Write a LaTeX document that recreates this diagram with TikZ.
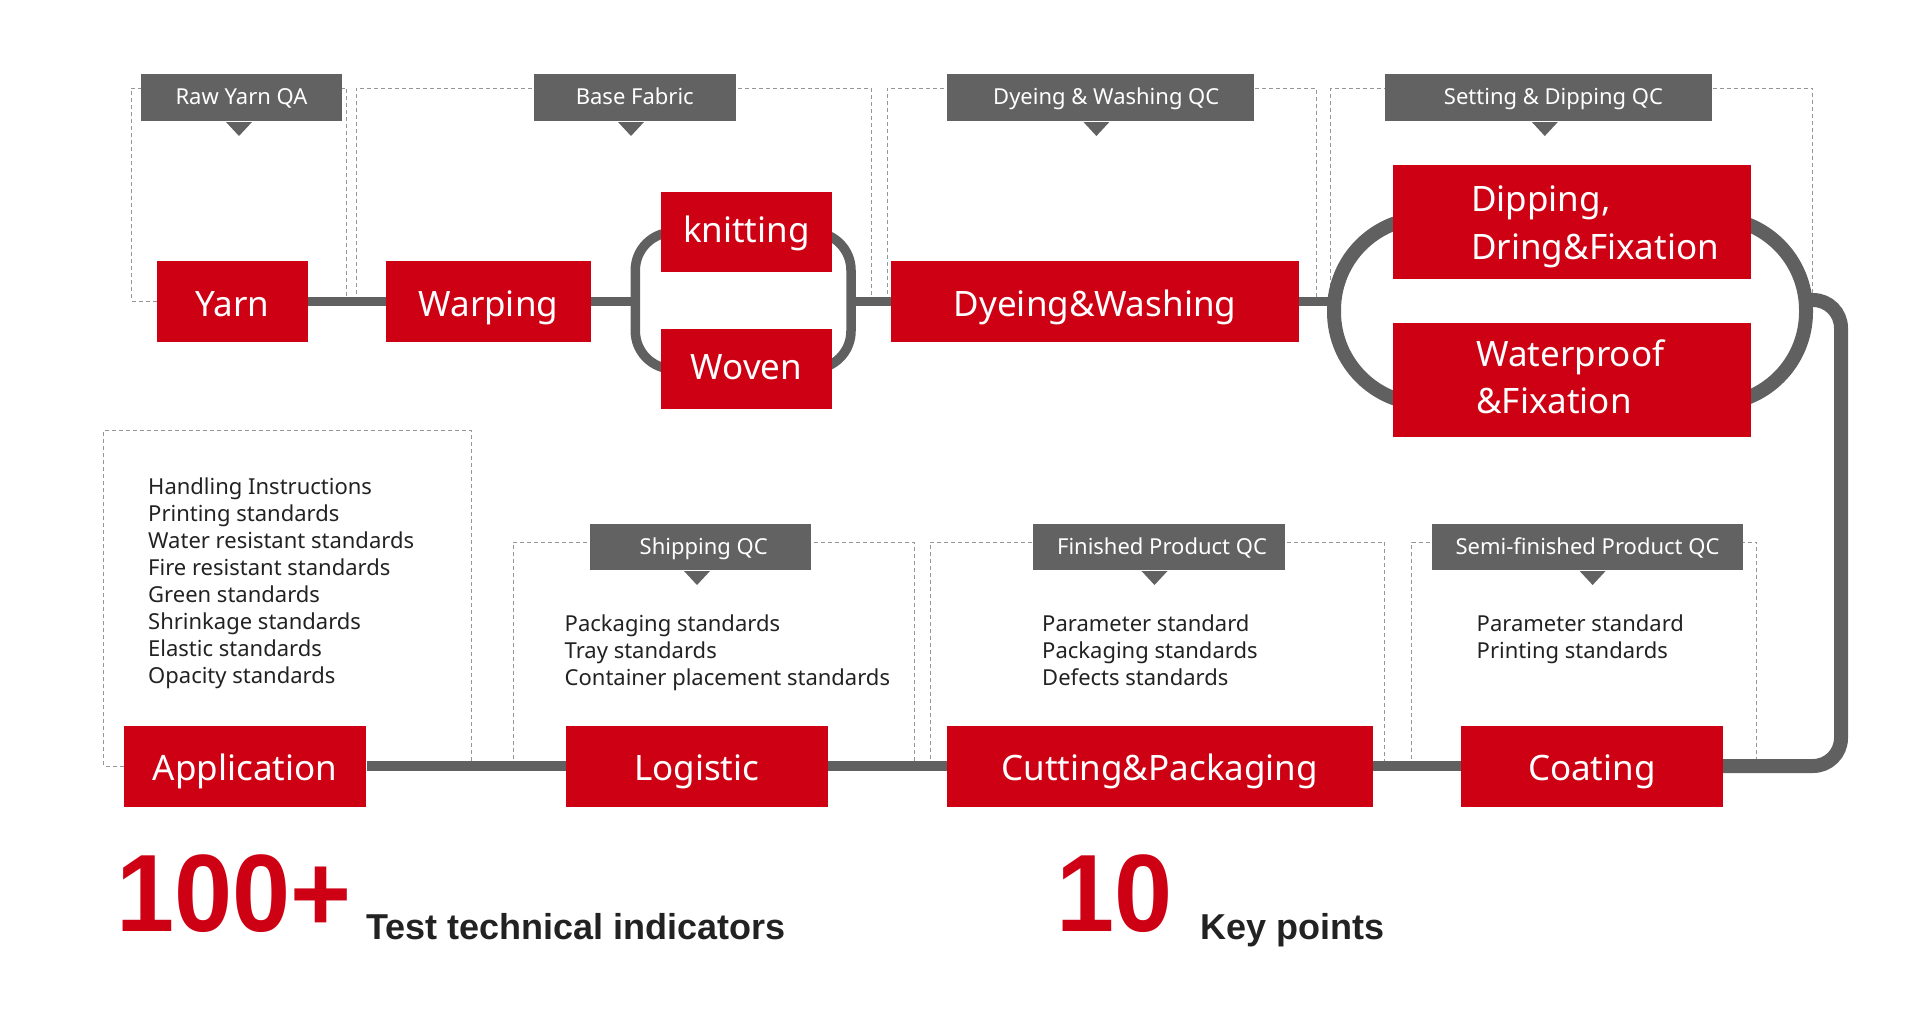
\documentclass[tikz,border=0pt]{standalone}
\usepackage{fontspec}
\setmainfont{Noto Sans}
\newfontfamily\qboldfont{Liberation Sans}
\usepackage{graphicx}
\usetikzlibrary{calc}
\definecolor{qred}{RGB}{206,0,19}
\definecolor{qgray}{RGB}{98,98,98}
\definecolor{qline}{RGB}{96,96,96}
\definecolor{qdash}{RGB}{150,150,150}
\definecolor{qtext}{RGB}{34,34,34}
\newcommand\qtri[2]{\fill[qgray] (#1-13,#2) -- (#1+13,#2) -- (#1,#2+14) -- cycle;}
\begin{document}
\begin{tikzpicture}[x=1pt,y=-1pt,
  redbox/.style={fill=qred, text=white, inner sep=0, font=\fontsize{35}{42}\selectfont, minimum height=81, text height=29pt, text depth=0pt},
  redtxt/.style={text=white, inner sep=0, anchor=base west, font=\fontsize{35}{42}\selectfont},
  qclabel/.style={fill=qgray, text=white, inner sep=0, font=\fontsize{22}{26}\selectfont, text height=14pt, text depth=0pt},
  dashbox/.style={draw=qdash, line width=1, dash pattern=on 4pt off 3pt},
  conn/.style={draw=qline, line width=9.5},
  thickconn/.style={draw=qline, line width=14},
  listtxt/.style={text=qtext, inner sep=0, anchor=base west, font=\fontsize{22}{27}\selectfont},
  bignum/.style={text=qred, inner sep=0, anchor=base west, font=\qboldfont\bfseries\fontsize{110}{120}\selectfont},
  bigtxt/.style={text=qtext, inner sep=0, anchor=base west, font=\qboldfont\bfseries\fontsize{36}{42}\selectfont}]
\useasboundingbox (0,0) rectangle (1918,1010);

% dashed QC frames
\draw[dashbox] (157,301) -- (131.6,301) -- (131.6,88) -- (346.8,88) -- (346.8,301);
\draw[dashbox] (356,301) -- (356,88) -- (871,88) -- (871,301);
\draw[dashbox] (887,301) -- (887,88) -- (1316.5,88) -- (1316.5,301);
\draw[dashbox] (1330.5,301) -- (1330.5,88) -- (1812.7,88) -- (1812.7,295);
\draw[dashbox] (123.8,766) -- (103.4,766) -- (103.4,430.7) -- (471,430.7) -- (471,766);
\draw[dashbox] (513,766) -- (513,542) -- (914,542) -- (914,766);
\draw[dashbox] (930,766) -- (930,542) -- (1384.7,542) -- (1384.7,766);
\draw[dashbox] (1411.5,766) -- (1411.5,542) -- (1756.7,542) -- (1756.7,766);

% QC labels
\node[qclabel, minimum width=201, minimum height=47] (rawqa) at (241.5,97.5) {Raw Yarn QA};
\node[qclabel, minimum width=201.6, minimum height=47] (basefab) at (634.8,97.5) {Base Fabric};
\node[qclabel, minimum width=307.5, minimum height=47] (dyeqc) at (1100.25,97.5) {\hspace{12pt}Dyeing \& Washing QC};
\node[qclabel, minimum width=327, minimum height=47] (setqc) at (1548.5,97.5) {\hspace{10pt}Setting \& Dipping QC};
\node[qclabel, minimum width=220.6, minimum height=46.2, text height=15pt] (shipqc) at (700.7,546.6) {\hspace{6pt}Shipping QC};
\node[qclabel, minimum width=251.3, minimum height=46.2, text height=15pt] (finqc) at (1159,546.6) {\hspace{6pt}Finished Product QC};
\node[qclabel, minimum width=311, minimum height=46.2, text height=15pt] (semiqc) at (1587.5,546.6) {Semi-finished Product QC};
\qtri{239}{122}
\qtri{631}{122}
\qtri{1096.4}{122}
\qtri{1544.8}{122}
\qtri{697}{571}
\qtri{1154.5}{571}
\qtri{1592.6}{571}

% coordinates for loops
\coordinate (lpl) at (635.3,301.5);
\coordinate (lpr) at (851,301.5);
\coordinate (bigL) at (1334,301.5);
\coordinate (bigR) at (1800,300);
\coordinate (rc) at (1841,300);

% red process boxes
\node[redbox, minimum width=150.7] (yarn) at (232.7,301.5) {Yarn};
\node[redbox, minimum width=204.6] (warp) at (488.3,301.5) {Warping};
\node[redbox, minimum width=408] (dye) at (1095,301.5) {Dyeing\&Washing};
\node[redbox, minimum width=242.6] (app) at (245.1,766) {Application};
\node[redbox, minimum width=262] (logi) at (696.7,766) {Logistic};
\node[redbox, minimum width=425.6] (cut) at (1159.8,766) {Cutting\&Packaging};
\node[redbox, minimum width=261.8] (coat) at (1591.9,766) {Coating};

% connectors
\draw[conn] (yarn) -- (warp);
\draw[conn] (warp) -- (lpl);
\draw[conn, rounded corners=38] (746.4,232.3) -- (lpl |- 0,232.3) -- (lpl |- 0,369) -- (lpr |- 0,369) -- (lpr |- 0,232.3) -- cycle;
\draw[conn] (lpr) -- (dye);
\draw[conn] (dye) -- (bigL);
\draw[thickconn, rounded corners=92] (1334,218) rectangle (1806,404);
\draw[thickconn, rounded corners=28] (bigR) -- (rc) -- (rc |- coat.east) -- (coat.east);
\draw[conn] (app) -- (logi) -- (cut) -- (coat);

% boxes sitting on the loops
\node[redbox, minimum width=170.7, minimum height=80, text height=20pt] (knit) at (746.4,232.3) {knitting};
\node[redbox, minimum width=170.7, minimum height=80, text height=21pt] (woven) at (746.4,369) {Woven};
\node[redbox, minimum width=358, minimum height=114] (dip) at (1571.7,222) {};
\node[redbox, minimum width=358, minimum height=114] (wat) at (1571.7,380.3) {};
\node[redtxt] (dipt1) at (1471,211.7) {Dipping,};
\node[redtxt] (dipt2) at (1471,259) {Dring\&Fixation};
\node[redtxt] (watt1) at (1476,366.7) {Waterproof};
\node[redtxt] (watt2) at (1476,413) {\&Fixation};

% lists
\foreach \t [count=\i] in {Handling Instructions, Printing standards, Water resistant standards, Fire resistant standards, Green standards, Shrinkage standards, Elastic standards, Opacity standards}
  \node[listtxt] (appl\i) at (148,{494+27*(\i-1)}) {\t};
\foreach \t [count=\i] in {Packaging standards, Tray standards, Container placement standards}
  \node[listtxt] (shipl\i) at (564.5,{631+27*(\i-1)}) {\t};
\foreach \t [count=\i] in {Parameter standard, Packaging standards, Defects standards}
  \node[listtxt] (finl\i) at (1042,{631+27*(\i-1)}) {\t};
\foreach \t [count=\i] in {Parameter standard, Printing standards}
  \node[listtxt] (semil\i) at (1476.5,{631+27*(\i-1)}) {\t};

% bottom figures
\node[bignum] (n100) at (116,931.7) {\scalebox{0.95}[1]{100+}};
\node[bigtxt] (t100) at (366,939) {Test technical indicators};
\node[bignum] (n10) at (1056,931.7) {\scalebox{0.95}[1]{10}};
\node[bigtxt] (t10) at (1200,939) {Key points};
\end{tikzpicture}
\end{document}
